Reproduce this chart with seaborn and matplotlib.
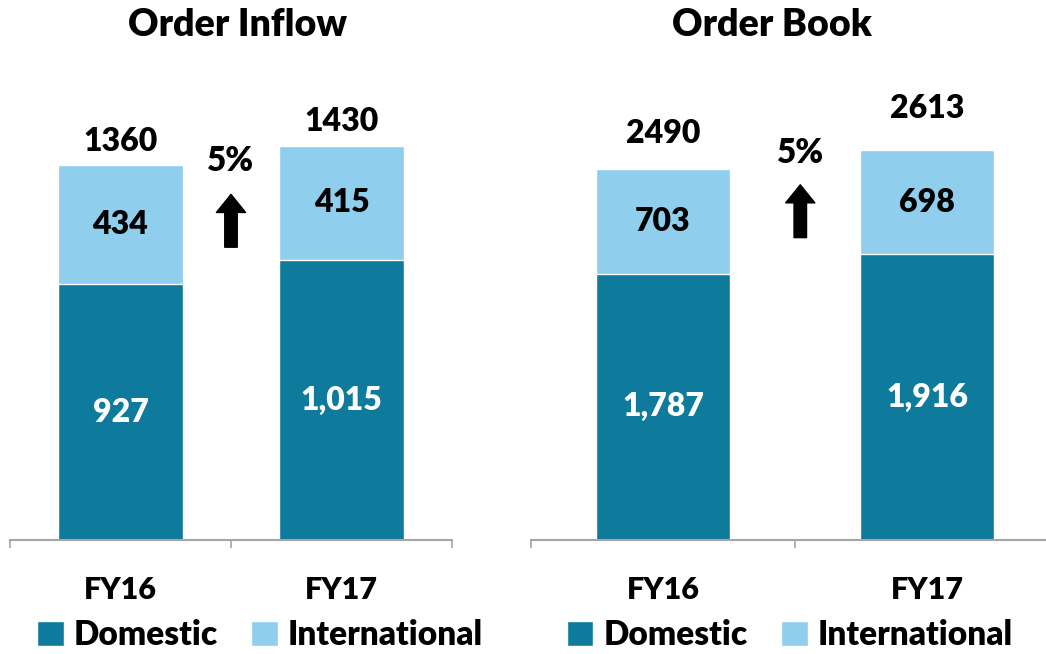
import matplotlib
matplotlib.use("Agg")
import matplotlib.pyplot as plt
import seaborn as sns
import pandas as pd

# values
years = ["FY16", "FY17"]
inflow_domestic = [927, 1015]
inflow_international = [434, 415]
inflow_totals = ["1360", "1430"]
book_domestic = [1787, 1916]
book_international = [703, 698]
book_totals = ["2490", "2613"]
growth_labels = ["5%", "5%"]

DARK = "#0E7A9C"
LIGHT = "#8FCEEC"
W = "heavy"

sns.set_theme(style="white")
plt.rcParams["font.family"] = ["Lato", "DejaVu Sans"]
plt.rcParams["font.weight"] = W
plt.rcParams["text.color"] = "black"
plt.rcParams["xtick.color"] = "black"


def draw_panel(ax, title, domestic, international, totals, growth, bar_width,
               ylim, title_x, legend_x, arrow_x, arrow_y, growth_y, total_pad):
    df = pd.DataFrame({"year": years, "domestic": domestic,
                       "international": international})
    df["stack"] = df["domestic"] + df["international"]

    # total height first (light), domestic on top of it (dark)
    sns.barplot(data=df, x="year", y="stack", color=LIGHT, width=bar_width,
                saturation=1, ax=ax, label="International")
    sns.barplot(data=df, x="year", y="domestic", color=DARK, width=bar_width,
                saturation=1, ax=ax, label="Domestic")

    for i, row in df.iterrows():
        ax.text(i, row["domestic"] / 2, f"{row['domestic']:,}", ha="center",
                va="center", color="white", fontsize=23, fontweight=W)
        ax.text(i, row["domestic"] + row["international"] / 2,
                f"{row['international']:,}", ha="center", va="center",
                color="black", fontsize=23, fontweight=W)
        ax.annotate(totals[i], xy=(i, row["stack"]), xytext=(0, total_pad[i]),
                    textcoords="offset points", ha="center", va="bottom",
                    fontsize=23, fontweight=W, color="black")

    # growth arrow between the bars
    ax.annotate("", xy=(arrow_x, arrow_y[1]), xytext=(arrow_x, arrow_y[0]),
                xycoords=("data", "axes fraction"),
                arrowprops=dict(arrowstyle="simple,head_length=13,head_width=21,tail_width=9",
                                mutation_scale=1, fc="black", ec="black",
                                shrinkA=0, shrinkB=0))
    ax.text(arrow_x, growth_y, growth, transform=ax.get_xaxis_transform(),
            ha="center", va="center", fontsize=24, fontweight=W, color="black")

    ax.text(title_x, 1.073, title, transform=ax.transAxes, ha="center",
            va="center", fontsize=27, fontweight=W, color="black")

    ax.set_xlim(-0.5, 1.5)
    ax.set_ylim(*ylim)
    ax.set_xlabel("")
    ax.set_ylabel("")
    ax.set_yticks([])
    sns.despine(ax=ax, left=True)
    ax.spines["bottom"].set_color("#A6A6A6")
    ax.spines["bottom"].set_linewidth(1.5)
    ax.set_xticks([-0.5, 0.5, 1.5], minor=True)
    ax.tick_params(axis="x", which="major", length=0, pad=26, labelsize=22,
                   labelcolor="black")
    ax.tick_params(axis="x", which="minor", bottom=True, length=6,
                   width=1.2, color="#A6A6A6", direction="out")
    for lbl in ax.get_xticklabels():
        lbl.set_fontweight(W)

    handles, labels = ax.get_legend_handles_labels()
    leg = ax.legend(handles[::-1], labels[::-1], loc="center",
                    bbox_to_anchor=(legend_x, -0.198), ncol=2, frameon=False,
                    handlelength=0.8, handleheight=0.8, handletextpad=0.3,
                    columnspacing=1.0, borderpad=0.2,
                    prop={"size": 24, "weight": W})
    for t in leg.get_texts():
        t.set_color("black")


fig = plt.figure(figsize=(10.46, 6.54), dpi=100)
ax1 = fig.add_axes([10 / 1046, 114 / 654, 442 / 1046, 480 / 654])
ax2 = fig.add_axes([531 / 1046, 114 / 654, 528 / 1046, 480 / 654])

draw_panel(ax1, "Order Inflow", inflow_domestic, inflow_international,
           inflow_totals, growth_labels[0], 0.57, (0, 1740), 0.515, 0.566,
           0.5, (0.61, 0.72), 0.79, (6, 7))
draw_panel(ax2, "Order Book", book_domestic, book_international,
           book_totals, growth_labels[1], 0.51, (0, 3221), 0.456, 0.49,
           0.52, (0.63, 0.74), 0.806, (15, 20))

fig.savefig("out.png", dpi=100)
